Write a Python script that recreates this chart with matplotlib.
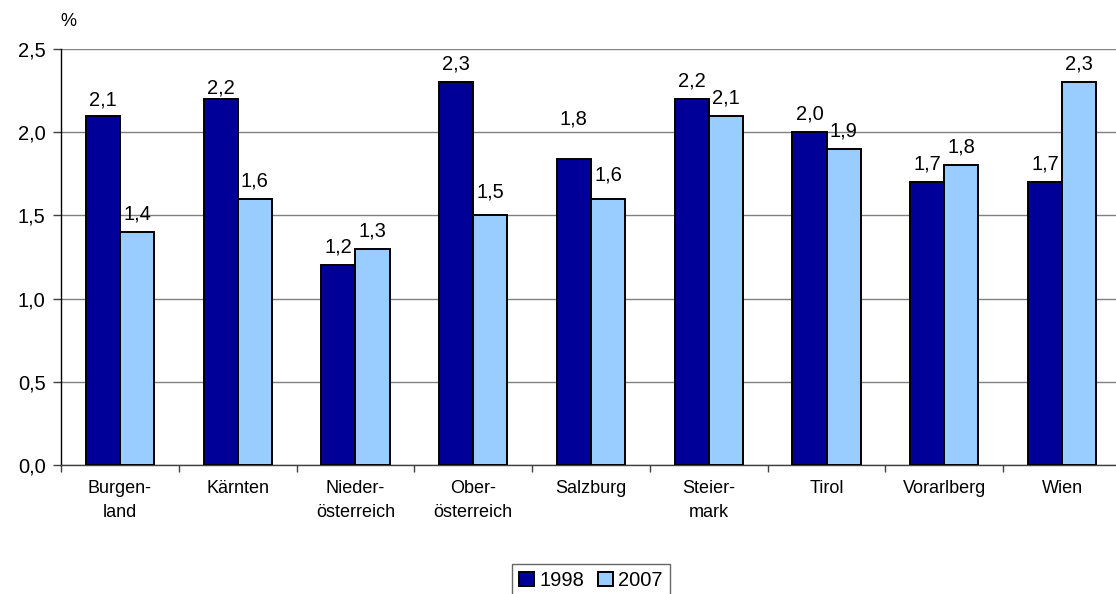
import numpy as np
import matplotlib.pyplot as plt

plt.rcParams['font.family'] = ['Liberation Sans', 'DejaVu Sans']
plt.rcParams['font.size'] = 13

# Bundesländer und Anteile in Prozent
regions = ['Burgen-\nland', 'Kärnten', 'Nieder-\nösterreich', 'Ober-\nösterreich',
           'Salzburg', 'Steier-\nmark', 'Tirol', 'Vorarlberg', 'Wien']
years = ['1998', '2007']
share_1998 = [2.1, 2.2, 1.2, 2.3, 1.84, 2.2, 2.0, 1.7, 1.7]
share_2007 = [1.4, 1.6, 1.3, 1.5, 1.6, 2.1, 1.9, 1.8, 2.3]

colors = ['#000099', '#99ccff']
bar_w = 0.29
num_size = 14.5

# extra vertical shift (points) for a few labels
label_nudge = {(0, 0): -2, (0, 1): -5, (0, 4): 16, (1, 3): 4, (1, 4): 4}


def fmt(v):
    return f'{v:.1f}'.replace('.', ',')


fig = plt.figure(figsize=(11.16, 5.94), dpi=100)
ax = fig.add_axes([61 / 1116, 129 / 594, 1060 / 1116, 416 / 594])

x = np.arange(len(regions))
for i, (vals, col) in enumerate(zip([share_1998, share_2007], colors)):
    pos = x + (i - 0.5) * bar_w
    ax.bar(pos, vals, width=bar_w, color=col, edgecolor='black',
           linewidth=1.4, label=years[i], zorder=3)
    for j, (px, v) in enumerate(zip(pos, vals)):
        off = 13 + label_nudge.get((i, j), 0)
        ax.annotate(fmt(v), (px, v), xytext=(0, off),
                    textcoords='offset points', ha='center', va='center',
                    fontsize=num_size, zorder=4)

ax.set_xlim(-0.5, len(regions) - 0.5)
ax.set_ylim(0, 2.5)
yt = np.arange(0, 2.51, 0.5)
ax.set_yticks(yt)
ax.set_yticklabels([fmt(t) for t in yt], fontsize=num_size)
ax.yaxis.grid(True, color='#808080', linewidth=1.0, zorder=0)

ax.set_xticks(x)
ax.set_xticklabels(regions, linespacing=1.55, fontsize=13)
ax.set_xticks(np.arange(-0.5, len(regions)), minor=True)
ax.tick_params(axis='x', which='major', length=0, pad=11)
ax.tick_params(axis='x', which='minor', length=5, color='#404040', width=1)
ax.tick_params(axis='y', length=6, color='#404040', width=1, pad=5)

for s in ['top', 'right']:
    ax.spines[s].set_visible(False)
ax.spines['left'].set_color('black')
ax.spines['bottom'].set_color('#404040')
ax.spines['left'].set_linewidth(1)
ax.spines['bottom'].set_linewidth(1)

fig.text(68 / 1116, 1 - 22 / 594, '%', ha='center', va='center', fontsize=13)

leg = fig.legend(loc='lower center', bbox_to_anchor=(591 / 1116, -0.022), ncol=2,
                 frameon=True, fancybox=False, edgecolor='#404040',
                 handlelength=0.75, handleheight=0.75, handletextpad=0.25,
                 columnspacing=0.7, borderpad=0.35, fontsize=num_size)
leg.get_frame().set_linewidth(1)

fig.savefig('out.png', dpi=100)
